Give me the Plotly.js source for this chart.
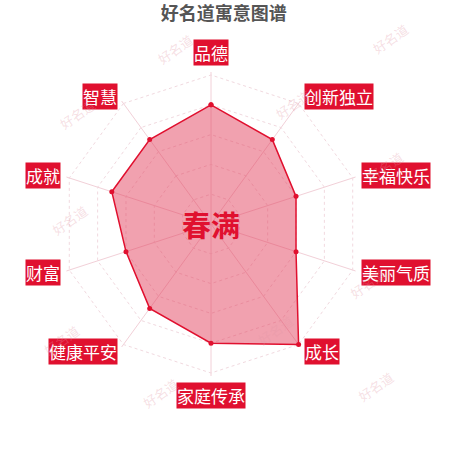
<!DOCTYPE html>
<html>
<head>
<meta charset="utf-8">
<script src="https://cdn.plot.ly/plotly-3.0.1.min.js"></script>
<style>
  html, body { margin: 0; padding: 0; background: #fff; }
  #chart { width: 450px; height: 450px; }
</style>
</head>
<body>
<div id="chart"></div>
<script>
// categories clockwise from top, values out of 100
const categories = ['品德', '创新独立', '幸福快乐', '美丽气质', '成长', '家庭传承', '健康平安', '财富', '成就', '智慧'];
const scores = [80, 70, 60, 60, 100, 80, 70, 60, 70, 70];
const nameText = '春满';
const chartTitle = '好名道寓意图谱';
const watermark = '好名道';

// layout geometry (pixels); R is where 100 sits
const W = 450, H = 450;
const cx = 211, cy = 224, R = 149, labelGap = 9;
const rMax = 102;
const Rd = R * rMax / 100;
const cjk = '"Noto Sans CJK SC", "Noto Sans", sans-serif';
const red = '#e0102f';

function px(x) { return x / W; }
function py(y) { return 1 - y / H; }

// category labels in red boxes, placed around the polygon
let annotations = categories.map(function(c, i) {
    let ang = i * 2 * Math.PI / categories.length;
    let s = Math.sin(ang), co = Math.cos(ang);
    let x = cx + (R + labelGap) * s;
    let y = cy - (R + labelGap) * co;
    let xa = Math.abs(s) < 0.01 ? 'center' : (s > 0 ? 'left' : 'right');
    let ya = Math.abs(s) < 0.01 ? (co > 0 ? 'bottom' : 'top') : 'middle';
    return {
        text: c, x: px(x), y: py(y), xref: 'paper', yref: 'paper',
        xanchor: xa, yanchor: ya, showarrow: false,
        font: {family: cjk, size: 17, color: '#fff'},
        bgcolor: red, borderpad: 0
    };
});

// faint watermarks
const wmPos = [[175,28],[415,17],[53,93],[293,83],[410,145],[45,220],[392,283],[275,352],[37,362],[160,415],[400,408]];
wmPos.forEach(function(p) {
    annotations.push({
        text: watermark, x: px(p[0]), y: py(p[1]), xref: 'paper', yref: 'paper',
        showarrow: false, textangle: -35,
        font: {family: cjk, size: 13, color: 'rgba(225,150,165,0.3)'}
    });
});

// centre name
annotations.push({
    text: '<b>' + nameText + '</b>', x: px(cx), y: py(cy), xref: 'paper', yref: 'paper',
    showarrow: false, font: {family: cjk, size: 29, color: red}
});

let trace = {
    type: 'scatterpolar',
    r: scores.concat([scores[0]]),
    theta: categories.concat([categories[0]]),
    mode: 'lines+markers',
    fill: 'toself',
    fillcolor: 'rgba(225,55,85,0.47)',
    line: {color: red, width: 1.5},
    marker: {color: red, size: 5},
    hoverinfo: 'none'
};

let layout = {
    width: W, height: H,
    margin: {l: 0, r: 0, t: 0, b: 0},
    paper_bgcolor: '#fff',
    showlegend: false,
    title: {
        text: '<b>' + chartTitle + '</b>',
        x: 0.497, xanchor: 'center', y: py(14), yanchor: 'middle',
        font: {family: cjk, size: 18, color: '#555'}
    },
    polar: {
        domain: {x: [px(cx - Rd), px(cx + Rd)], y: [py(cy + Rd), py(cy - Rd)]},
        bgcolor: 'rgba(0,0,0,0)',
        gridshape: 'linear',
        radialaxis: {
            range: [0, rMax], tickvals: [20, 40, 60, 80, 100], showticklabels: false, ticks: '',
            showline: false, gridcolor: '#f1d9df', griddash: 'dot', gridwidth: 1
        },
        angularaxis: {
            direction: 'clockwise', rotation: 90,
            showticklabels: false, ticks: '',
            showline: false,
            gridcolor: '#f2d0d8', gridwidth: 1
        }
    },
    annotations: annotations
};

Plotly.newPlot('chart', [trace], layout, {displayModeBar: false, staticPlot: true});
</script>
</body>
</html>
